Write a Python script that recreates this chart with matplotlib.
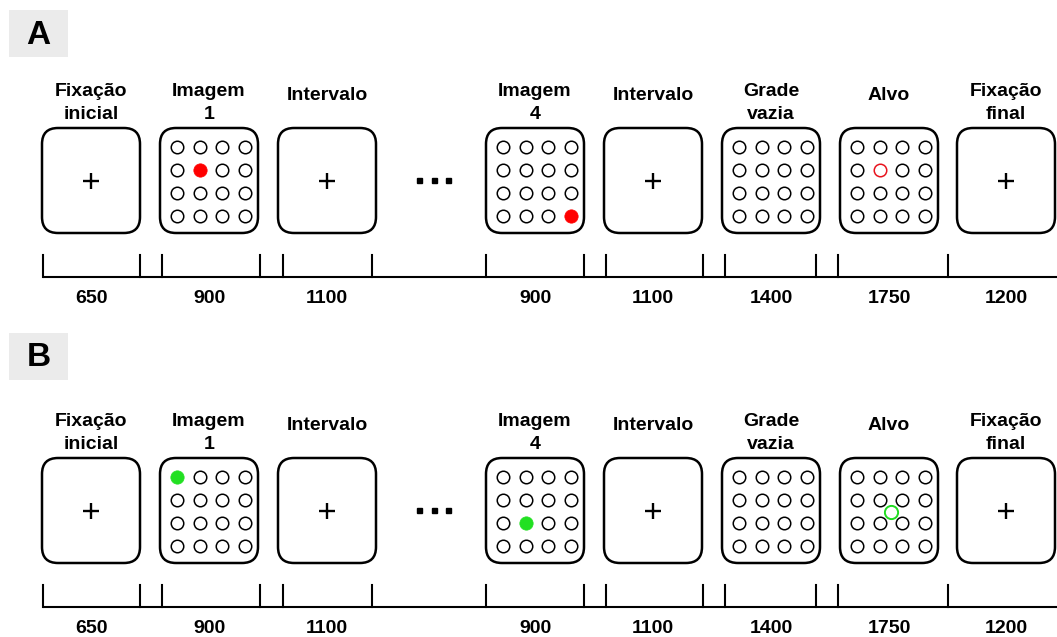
import matplotlib.pyplot as plt
from matplotlib.patches import FancyBboxPatch, Rectangle

plt.rcParams['font.family'] = ['Liberation Sans', 'DejaVu Sans']

# Etapas do ensaio
titles = ["Fixação\ninicial", "Imagem\n1", "Intervalo", "Imagem\n4",
          "Intervalo", "Grade\nvazia", "Alvo", "Fixação\nfinal"]
durations = [650, 900, 1100, 900, 1100, 1400, 1750, 1200]
kinds = ["cross", "grid", "cross", "grid", "cross", "grid", "grid", "cross"]
panel_labels = ["A", "B"]

# destaques na grade 4x4: (painel, etapa) -> (linha, coluna, cor, preenchido)
highlights = {
    ("A", 1): (1, 1, "#ff0000", True),
    ("A", 3): (3, 3, "#ff0000", True),
    ("A", 6): (1, 1, "#e8141e", False),
    ("B", 1): (0, 0, "#22e022", True),
    ("B", 3): (2, 1, "#22e022", True),
    ("B", 6): (1.5, 1.5, "#22dd22", False),
}

# layout em pixels
W, H = 1057, 637
box_left = [42, 160, 278, 486, 604, 722, 840, 957]
box_w, box_h, box_top = 98, 105, 128
tick_x = [(43, 140), (162, 260), (283, 372), (486, 584),
          (606, 703), (725, 816), (838, 948)]
panel_dy = [0, 330]
label_box_y = [10, 333]

fig = plt.figure(figsize=(W / 100, H / 100), dpi=100)
ax = fig.add_axes([0, 0, 1, 1])
ax.set_xlim(0, W)
ax.set_ylim(H, 0)
ax.axis('off')

for p, lab in enumerate(panel_labels):
    dy = panel_dy[p]
    # rótulo do painel
    ax.add_patch(Rectangle((9, label_box_y[p]), 59, 47, color="#ebebeb", lw=0))
    ax.text(38.5, label_box_y[p] + 25, lab, fontsize=24, fontweight='bold',
            ha='center', va='center')

    for i, (t, k) in enumerate(zip(titles, kinds)):
        x0 = box_left[i]
        cx = x0 + box_w / 2
        cy = box_top + dy + box_h / 2
        # título
        lines = t.split("\n")
        if len(lines) == 2:
            ax.text(cx, 96 + dy, lines[0], fontsize=14, fontweight='bold',
                    ha='center', va='baseline')
            ax.text(cx, 119 + dy, lines[1], fontsize=14, fontweight='bold',
                    ha='center', va='baseline')
        else:
            ax.text(cx, 100 + dy, t, fontsize=14, fontweight='bold',
                    ha='center', va='baseline')
        # tela
        ax.add_patch(FancyBboxPatch((x0, box_top + dy), box_w, box_h,
                                    boxstyle="round,pad=0,rounding_size=16",
                                    fc='white', ec='black', lw=1.8))
        if k == "cross":
            ax.plot(cx, cy, marker='+', ms=11.5, mew=1.7, color='black')
        else:
            hl = highlights.get((lab, i))
            for r in range(4):
                for c in range(4):
                    gx = cx + 2 + (c - 1.5) * 22.4
                    gy = cy + 1 + (r - 1.5) * 23.2
                    if hl is not None and hl[0] == r and hl[1] == c:
                        if hl[3]:
                            ax.plot(gx, gy, 'o', ms=9.6, mfc=hl[2], mec=hl[2],
                                    mew=0.5)
                        else:
                            ax.plot(gx, gy, 'o', ms=9, mfc='none', mec=hl[2],
                                    mew=1.1)
                        continue
                    ax.plot(gx, gy, 'o', ms=9, mfc='none', mec='black', mew=1.1)
            if hl is not None and hl[0] % 1:
                gx = cx + 2 + (hl[1] - 1.5) * 22.4
                gy = cy + 1 + (hl[0] - 1.5) * 23.2
                ax.plot(gx, gy, 'o', ms=9.5, mfc='none', mec=hl[2], mew=1.4)
        # duração
        ax.text(cx, 303 + dy, str(durations[i]), fontsize=14,
                fontweight='bold', ha='center', va='baseline')

    # reticências
    ax.plot([419, 433.5, 448], [180 + dy] * 3, 's', ms=3.6, color='black')

    # linha do tempo
    ax.plot([43, W], [277 + dy, 277 + dy], color='black', lw=1.5,
            solid_capstyle='butt')
    for a, b in tick_x:
        ax.plot([a, a], [255 + dy, 277 + dy], color='black', lw=1.5)
        ax.plot([b, b], [255 + dy, 277 + dy], color='black', lw=1.5)

fig.savefig("out.png", dpi=100)
